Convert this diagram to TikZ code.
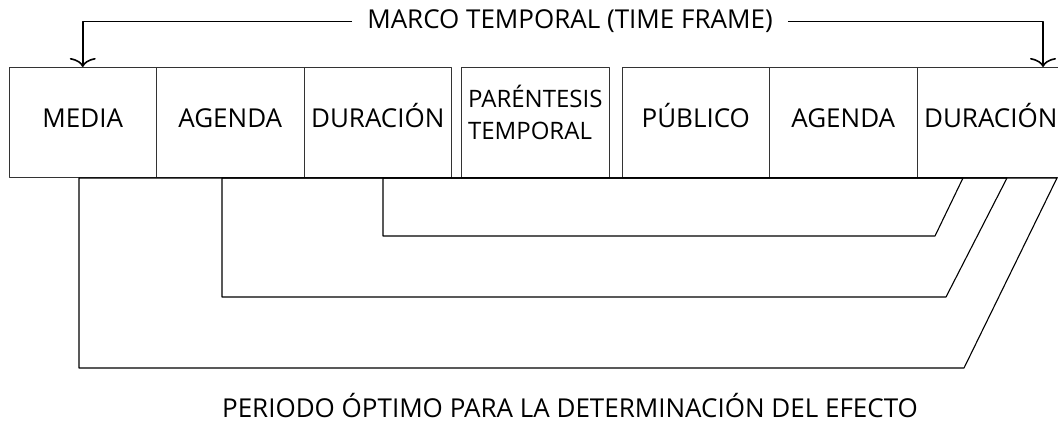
\documentclass[tikz,border=0pt]{standalone}
\usepackage{fontspec}
\setmainfont{Open Sans}
\usetikzlibrary{arrows.meta,positioning}
\begin{document}
\begin{tikzpicture}[>={To[length=9pt,width=26pt]}, x=1pt, y=-1pt, line join=round,
	font=\fontsize{26}{32}\selectfont,
	box/.style={draw=black!80, line width=0.9pt, minimum width=147.5pt, minimum height=110pt, inner sep=0pt, outer sep=0pt, align=left},
	oneline/.style={text height=18.6pt, text depth=6.6pt},
	bracket/.style={draw, line width=1.1pt}]
	\useasboundingbox (0,0) rectangle (1058,422);
	% media side
	\node[box, oneline] (media) at (82.75,122) {MEDIA};
	\node[box, oneline, right=0pt of media] (agenda) {AGENDA};
	\node[box, oneline, right=0pt of agenda] (dur) {DURACIÓN};
	\node[box, right=10pt of dur, text depth=19pt, font=\fontsize{24}{32}\selectfont] (paren) {PARÉNTESIS\\TEMPORAL};
	% public side
	\node[box, oneline, right=13pt of paren] (publico) {PÚBLICO};
	\node[box, oneline, right=0pt of publico] (agenda2) {AGENDA};
	\node[box, oneline, right=0pt of agenda2] (dur2) {DURACIÓN};
	% time frame
	\node[inner xsep=15pt, anchor=base] (frame) at (570,29) {MARCO TEMPORAL (TIME FRAME)};
	\coordinate (frameend) at (1043,67);
	\draw[->, line width=1.6pt] (frame.west) -| (media.north);
	\draw[->, line width=1.6pt] (frame.east) -| (frameend);
	% periods
	\foreach \xl/\yb/\xb/\xt in {79/368/964/1057, 222/297/946/1007, 383/236/935/963}
		\draw[bracket] (\xl,178) -- (\xl,\yb) -- (\xb,\yb) -- (\xt,178) -- cycle;
	\node[anchor=base, inner sep=0pt] (period) at (570,417) {PERIODO ÓPTIMO PARA LA DETERMINACIÓN DEL EFECTO};
\end{tikzpicture}
\end{document}
